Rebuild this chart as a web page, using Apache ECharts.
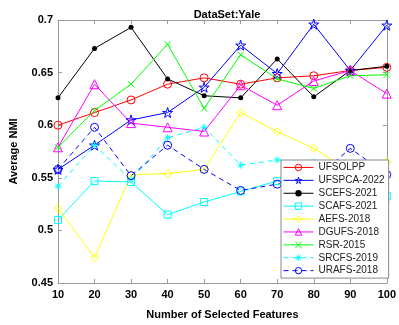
<!DOCTYPE html>
<html>
<head>
<meta charset="utf-8">
<script src="https://cdn.jsdelivr.net/npm/echarts@6/dist/echarts.min.js"></script>
<style>
html, body { margin: 0; padding: 0; background: #fff; }
#chart { width: 399px; height: 325px; }
</style>
</head>
<body>
<div id="chart"></div>
<script>
var features = [10, 20, 30, 40, 50, 60, 70, 80, 90, 100];

var ufsolpp  = [0.600, 0.612, 0.624, 0.639, 0.645, 0.639, 0.645, 0.647, 0.652, 0.655];
var ufspca   = [0.558, 0.581, 0.605, 0.612, 0.636, 0.676, 0.649, 0.696, 0.652, 0.695];
var scefs    = [0.626, 0.673, 0.693, 0.644, 0.628, 0.626, 0.663, 0.627, 0.652, 0.656];
var scafs    = [0.510, 0.547, 0.546, 0.515, 0.527, 0.537, 0.547, 0.545, 0.531, 0.533];
var aefs     = [0.521, 0.474, 0.553, 0.554, 0.558, 0.612, 0.594, 0.578, 0.556, 0.565];
var dgufs    = [0.579, 0.639, 0.602, 0.598, 0.594, 0.638, 0.619, 0.642, 0.652, 0.630];
var rsr      = [0.579, 0.614, 0.639, 0.677, 0.616, 0.667, 0.644, 0.635, 0.647, 0.648];
var srcfs    = [0.542, 0.581, 0.548, 0.588, 0.598, 0.562, 0.567, 0.565, 0.540, 0.529];
var urafs    = [0.558, 0.598, 0.552, 0.581, 0.558, 0.538, 0.544, 0.548, 0.578, 0.553];

var names = ['UFSOLPP', 'UFSPCA-2022', 'SCEFS-2021', 'SCAFS-2021', 'AEFS-2018',
             'DGUFS-2018', 'RSR-2015', 'SRCFS-2019', 'URAFS-2018'];

var STAR = 'path://M50,0L61,35L98,35L68,57L79,91L50,70L21,91L32,57L2,35L39,35Z';
var CROSS = 'path://M0,0L10,10M10,0L0,10';
var AST = 'path://M5,0L5,10M0,5L10,5M1.5,1.5L8.5,8.5M8.5,1.5L1.5,8.5';

function pairs(arr) {
  return features.map(function (x, i) { return [x, arr[i]]; });
}

function mk(name, data, color, symbol, size, dashed, filled) {
  return {
    name: name,
    type: 'line',
    data: pairs(data),
    symbol: symbol,
    symbolSize: size,
    showSymbol: true,
    lineStyle: { color: color, width: 1, type: dashed ? [5, 4] : 'solid' },
    itemStyle: { color: filled ? color : 'none', borderColor: color, borderWidth: filled ? 0 : 1 },
    emphasis: { disabled: true }
  };
}

var font = 'Liberation Sans, Arial, sans-serif';
var axisGray = '#999';

// legend entries: hollow markers except the black dot
var legendData = names.map(function (n) {
  return n === 'SCEFS-2021'
    ? { name: n }
    : { name: n, itemStyle: { color: 'transparent', borderWidth: 1 } };
});

var chart = echarts.init(document.getElementById('chart'));
chart.setOption({
  animation: false,
  title: {
    text: 'DataSet:Yale',
    left: 222, top: 4, textAlign: 'center',
    textStyle: { fontFamily: font, fontSize: 11, fontWeight: 'bold', color: '#000' }
  },
  grid: { left: 53, right: 8, top: 20, bottom: 38, show: false },
  legend: {
    data: legendData,
    orient: 'vertical',
    left: 281, top: 160,
    padding: [1, 4, 1, 2],
    itemGap: 0,
    itemWidth: 30,
    itemHeight: 8,
    backgroundColor: '#fff',
    borderColor: '#888',
    borderWidth: 1,
    lineStyle: { width: 1 },
    textStyle: { fontFamily: font, fontSize: 10, color: '#222', lineHeight: 12.9 }
  },
  xAxis: [{
    type: 'value', min: 10, max: 100, interval: 10, position: 'bottom',
    name: 'Number of Selected Features', nameLocation: 'middle', nameGap: 26,
    nameTextStyle: { fontFamily: font, fontSize: 11, fontWeight: 'bold', color: '#000' },
    axisLine: { lineStyle: { color: axisGray } },
    axisTick: { inside: true, length: 4, lineStyle: { color: axisGray } },
    axisLabel: { fontFamily: font, fontSize: 11, fontWeight: 'bold', color: '#000', margin: 6 },
    splitLine: { show: false }
  }, {
    type: 'value', min: 10, max: 100, interval: 10, position: 'top',
    axisLine: { lineStyle: { color: axisGray } },
    axisTick: { inside: true, length: 4, lineStyle: { color: axisGray } },
    axisLabel: { show: false },
    splitLine: { show: false }
  }],
  yAxis: [{
    type: 'value', min: 0.45, max: 0.7, interval: 0.05, position: 'left',
    name: 'Average NMI', nameLocation: 'middle', nameGap: 39,
    nameTextStyle: { fontFamily: font, fontSize: 11, fontWeight: 'bold', color: '#000' },
    axisLine: { show: true, lineStyle: { color: axisGray } },
    axisTick: { show: true, inside: true, length: 4, lineStyle: { color: axisGray } },
    axisLabel: {
      fontFamily: font, fontSize: 11, fontWeight: 'bold', color: '#000', margin: 5,
      formatter: function (v) { return String(+v.toFixed(2)); }
    },
    splitLine: { show: false }
  }, {
    type: 'value', min: 0.45, max: 0.7, interval: 0.05, position: 'right',
    axisLine: { show: true, lineStyle: { color: axisGray } },
    axisTick: { show: true, inside: true, length: 4, lineStyle: { color: axisGray } },
    axisLabel: { show: false },
    splitLine: { show: false }
  }],
  series: [
    mk('UFSOLPP', ufsolpp, '#ff0000', 'circle', 8, false, false),
    mk('UFSPCA-2022', ufspca, '#0000ff', STAR, 10, false, false),
    mk('SCEFS-2021', scefs, '#000000', 'circle', 5, false, true),
    mk('SCAFS-2021', scafs, '#00ffff', 'rect', 7, false, false),
    mk('AEFS-2018', aefs, '#ffff00', 'diamond', 8, false, false),
    mk('DGUFS-2018', dgufs, '#ff00ff', 'triangle', 9, false, false),
    mk('RSR-2015', rsr, '#00ff00', CROSS, 6, false, false),
    mk('SRCFS-2019', srcfs, '#00ffff', AST, 7, true, false),
    mk('URAFS-2018', urafs, '#0000ff', 'circle', 8, true, false)
  ]
});
</script>
</body>
</html>
